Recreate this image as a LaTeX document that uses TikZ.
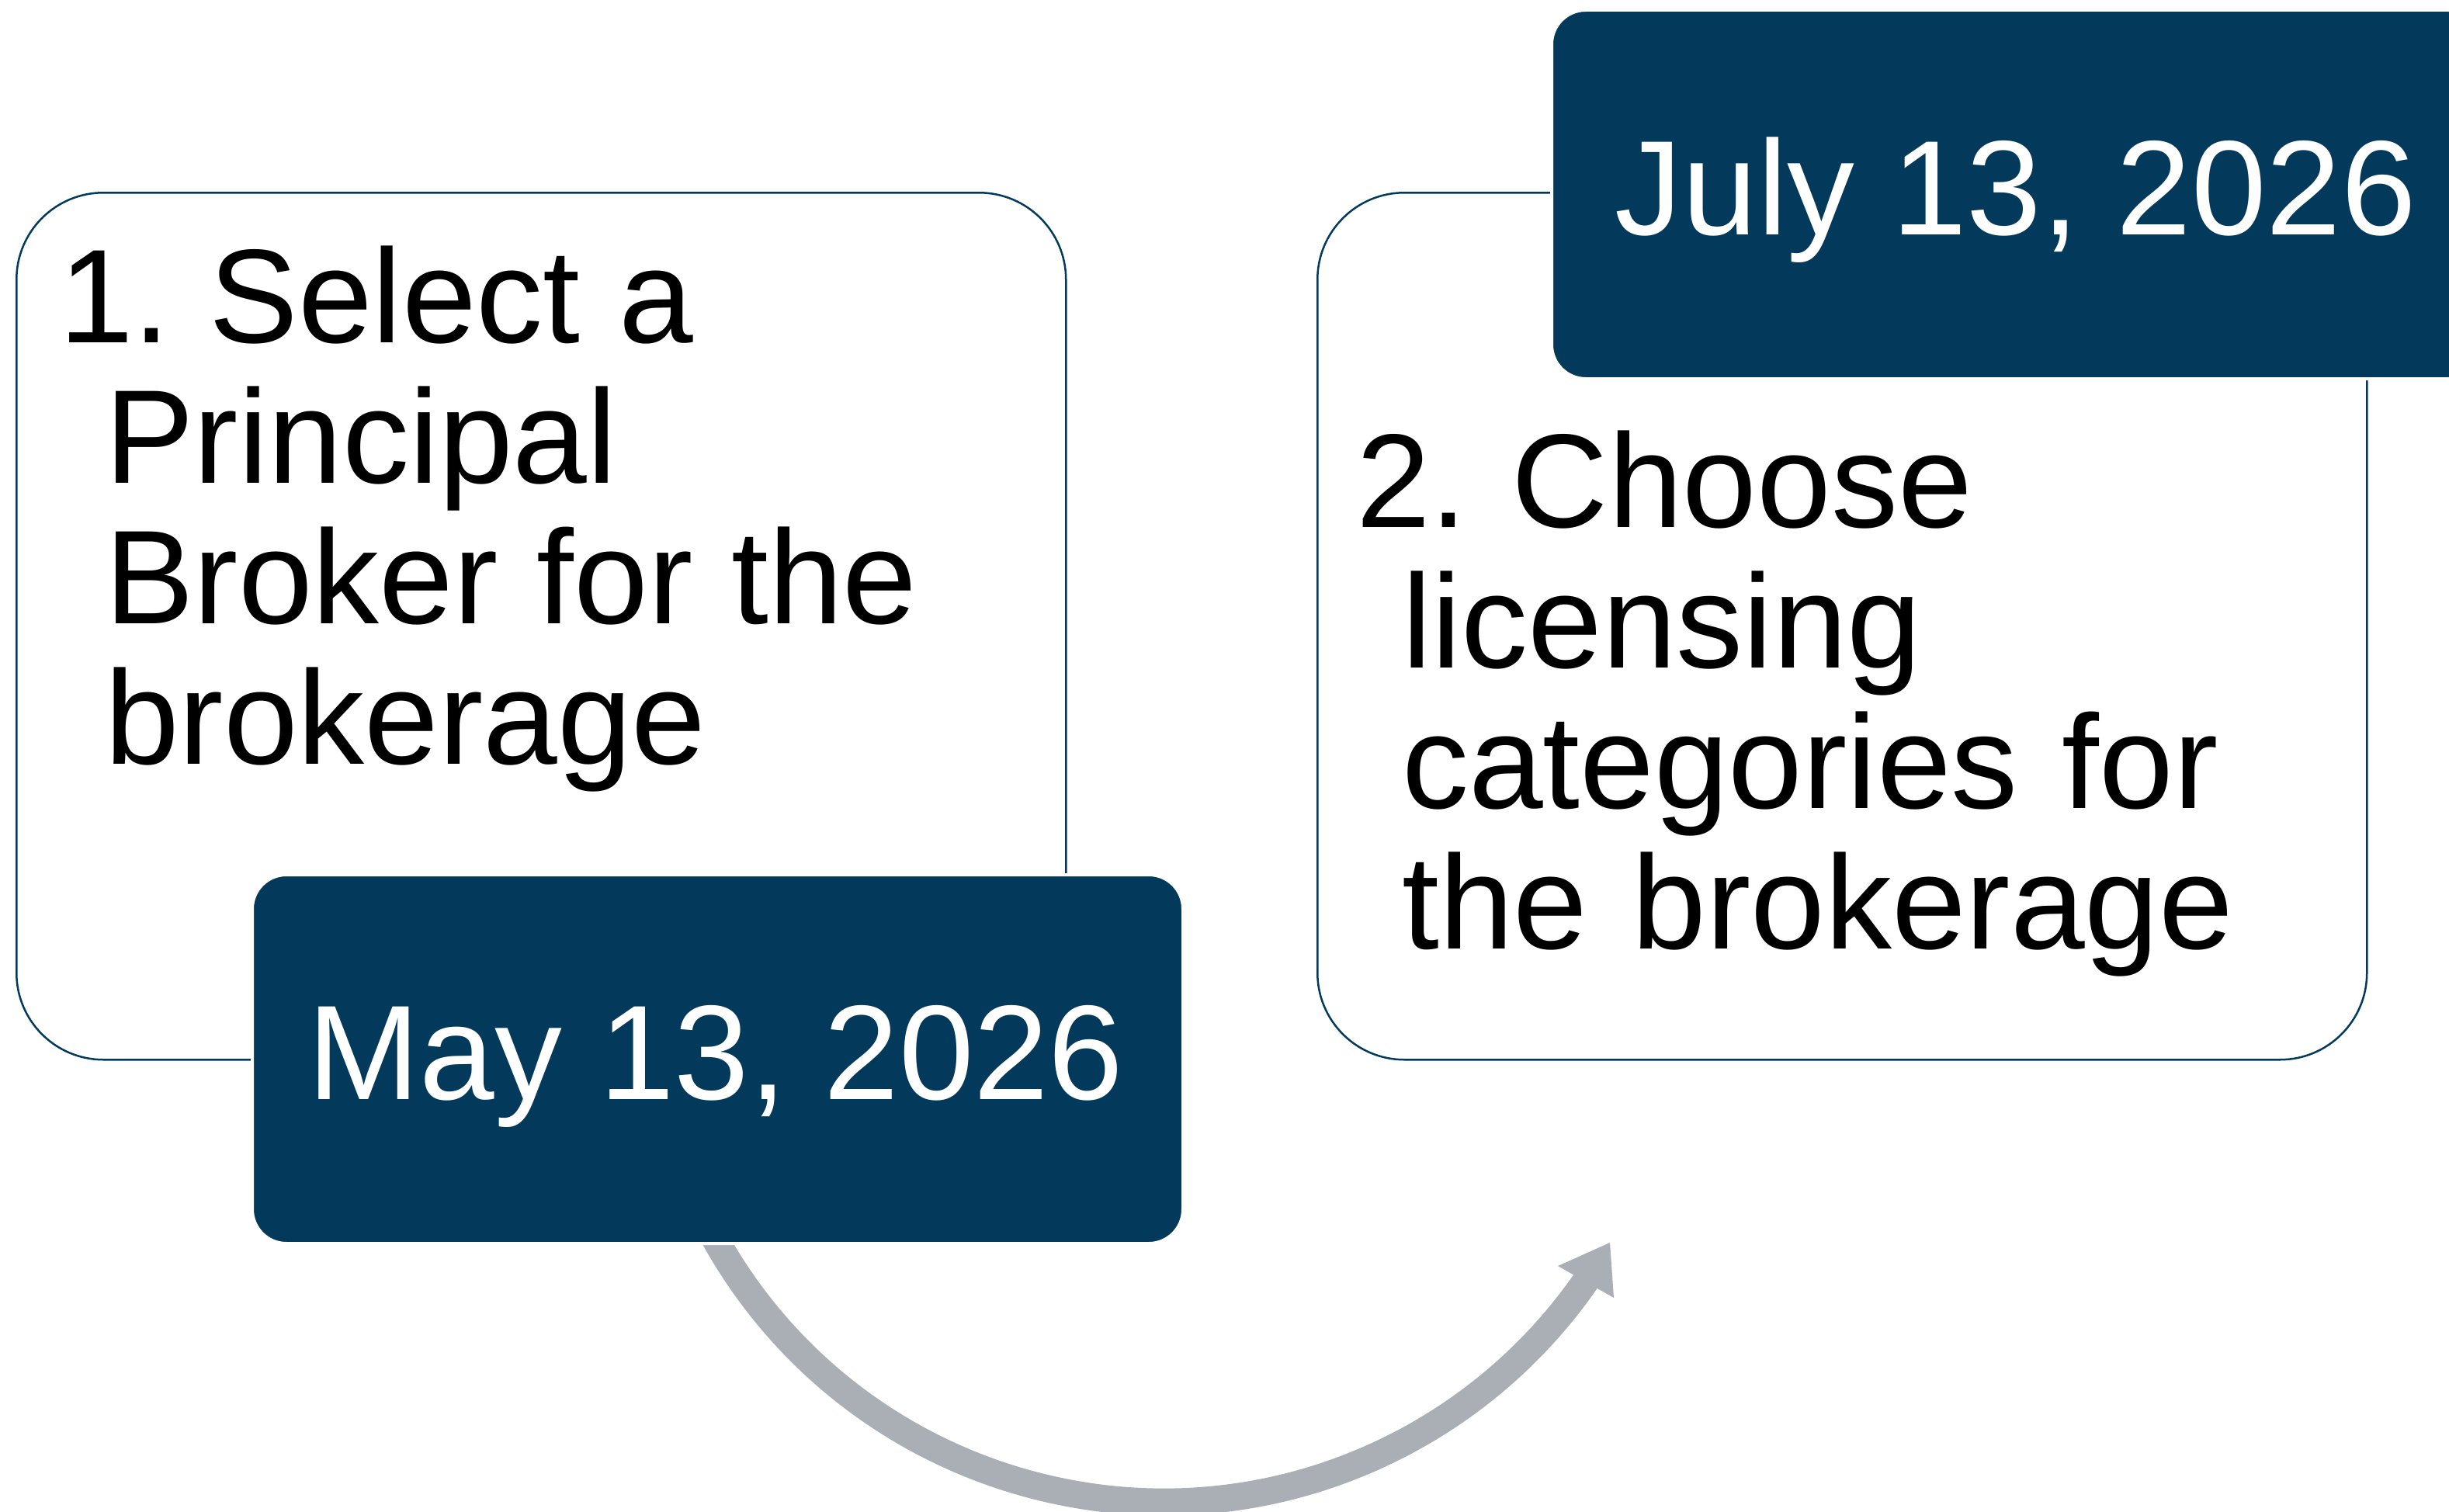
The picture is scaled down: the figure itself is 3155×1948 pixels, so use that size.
\documentclass[tikz,border=0pt]{standalone}
\usepackage{fontspec}
\setmainfont{Liberation Sans}
\usetikzlibrary{calc}
\definecolor{navy}{HTML}{033A5C}
\definecolor{arrowgray}{HTML}{AAAEB5}
\begin{document}
\frenchspacing
\begin{tikzpicture}[x=1pt,y=-1pt,
  stepcard/.style={draw=navy, line width=2.5pt, fill=white, rounded corners=112pt,
    minimum width=1352pt, minimum height=1117pt, inner sep=0pt, anchor=north west},
  datebox/.style={fill=navy, draw=white, line width=4pt, rounded corners=44pt,
    minimum width=1199pt, minimum height=475pt, inner sep=0pt, anchor=north west},
  bodytext/.style={font=\fontsize{172}{181}\selectfont\frenchspacing, text=black, anchor=base west,
    inner sep=0pt, text width=1320pt, align=left},
  datetext/.style={font=\fontsize{173.5}{181}\selectfont, text=white, anchor=base, inner sep=0pt},
  flowarc/.style={draw=arrowgray, line width=35pt},
  flowhead/.style={fill=arrowgray}]
\useasboundingbox (0,0) rectangle (3155,1948);
\clip (0,0) rectangle (3155,1948);
% cards
\node[stepcard] (card1) at (20,247) {};
\node[stepcard] (card2) at (1696,247) {};
% circular arrow
\coordinate (arcC) at (1499,1273);
\coordinate (arcS) at ($(arcC)+(152:662)$);
\draw[flowarc] (arcS) arc[start angle=152, end angle=32, radius=662] coordinate (arcE);
\coordinate (tip) at (2074,1601);
\fill[flowhead] (tip) -- (2007,1631) -- (2079,1672) -- cycle;
% date boxes
\node[datebox] (date1) at (323,1125) {};
\node[datebox] (date2) at (1997,11) {};
% texts
\node[bodytext] (text1) at (76,441) {\spaceskip=50pt\relax 1. Select a\\\hspace*{59pt}Principal\\\hspace*{59pt}Broker for the\\\hspace*{59pt}brokerage};
\node[bodytext] (text2) at (1747,679) {2. Choose\\\hspace*{59pt}licensing\\\hspace*{59pt}categories for\\\hspace*{59pt}the brokerage};
\node[datetext] (date1text) at (922,1416) {May 13, 2026};
\node[datetext] (date2text) at (2597,302) {July 13, 2026};
\end{tikzpicture}
\end{document}
